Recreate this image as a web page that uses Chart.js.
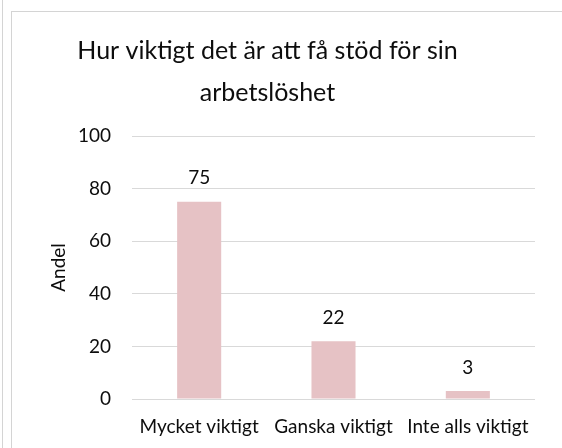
<!DOCTYPE html>
<html>
<head>
<meta charset="utf-8">
<script src="https://cdn.jsdelivr.net/npm/chart.js@4"></script>
<style>
  html, body { margin: 0; padding: 0; background: #ffffff; width: 562px; height: 448px; overflow: hidden; }
  #wrap { position: relative; width: 562px; height: 448px; }
  .line-v { position: absolute; left: 2px; top: 0; width: 1px; height: 448px; background: #d4d4d4; }
  .frame { position: absolute; left: 11px; top: 11px; width: 600px; height: 500px; border-left: 1px solid #d4d4d4; border-top: 1px solid #d4d4d4; }
  canvas { position: absolute; left: 0; top: 0; }
</style>
</head>
<body>
<div id="wrap">
  <div class="line-v"></div>
  <div class="frame"></div>
  <canvas id="c" width="536" height="448"></canvas>
</div>
<script>
const categories = ["Mycket viktigt", "Ganska viktigt", "Inte alls viktigt"];
const values = [75, 22, 3];
const titleLines = ["Hur viktigt det är att få stöd för sin", "arbetslöshet"];
const yAxisTitle = "Andel";
const yTicks = [0, 20, 40, 60, 80, 100];

const FONT = "Lato, 'Open Sans', sans-serif";
const TEXT = "#0d0d0d";

const valueLabels = {
  id: 'valueLabels',
  afterDatasetsDraw(chart) {
    const ctx = chart.ctx;
    const meta = chart.getDatasetMeta(0);
    ctx.save();
    ctx.font = "19px " + FONT;
    ctx.fillStyle = TEXT;
    ctx.textAlign = 'center';
    ctx.textBaseline = 'alphabetic';
    meta.data.forEach((bar, i) => {
      ctx.fillText(String(chart.data.datasets[0].data[i]), bar.x, bar.y - 17.5);
    });
    ctx.restore();
  }
};

new Chart(document.getElementById('c'), {
  type: 'bar',
  data: {
    labels: categories,
    datasets: [{
      data: values,
      backgroundColor: '#E6C2C5',
      borderWidth: 0,
      barPercentage: 0.328,
      categoryPercentage: 1.0
    }]
  },
  options: {
    responsive: false,
    animation: false,
    devicePixelRatio: 1,
    layout: { padding: { left: 0, right: 1, top: 0, bottom: 0 } },
    plugins: {
      legend: { display: false },
      tooltip: { enabled: false },
      title: {
        display: true,
        text: titleLines,
        color: TEXT,
        font: { family: FONT, size: 25, weight: 'normal', lineHeight: 1.68 },
        padding: { top: 30, bottom: 22 }
      }
    },
    scales: {
      x: {
        grid: { display: false, drawTicks: false },
        border: { display: false },
        ticks: { color: TEXT, font: { family: FONT, size: 19 }, padding: 16, maxRotation: 0, autoSkip: false },
        afterFit(scale) { scale.height = 49; scale.paddingLeft = 0; scale.paddingRight = 0; }
      },
      y: {
        min: 0,
        max: 100,
        afterBuildTicks(scale) { scale.ticks = yTicks.map(v => ({ value: v })); },
        grid: { color: '#d9d9d9', lineWidth: 1, drawTicks: false },
        border: { display: false },
        ticks: { color: TEXT, font: { family: FONT, size: 19 }, padding: 21 },
        title: { display: true, text: yAxisTitle, color: TEXT, font: { family: FONT, size: 19 }, padding: { top: 47, bottom: 0 } },
        afterFit(scale) { scale.width = 132; scale.paddingTop = 0; scale.paddingBottom = 0; }
      }
    }
  },
  plugins: [valueLabels]
});
</script>
</body>
</html>
